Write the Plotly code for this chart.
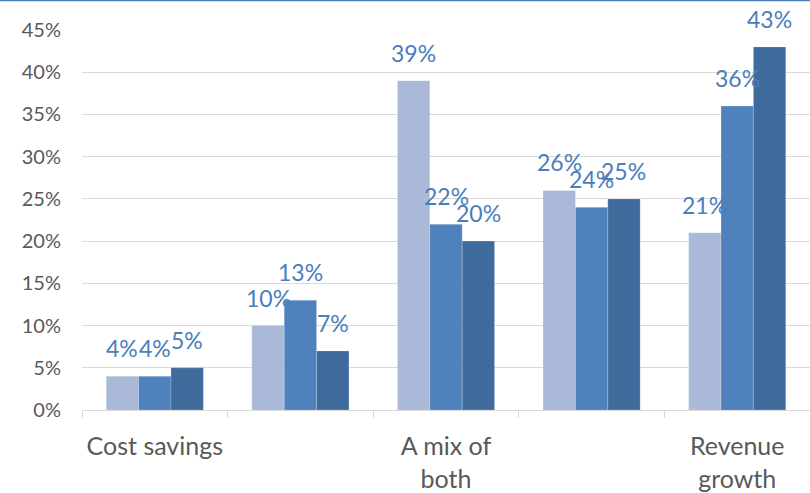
import plotly.graph_objects as go

# Survey results: share of respondents per answer, three series
categories = ["Cost savings", "", "A mix of<br>both", "", "Revenue<br>growth"]
series_a = [4, 10, 39, 26, 21]
series_b = [4, 13, 22, 24, 36]
series_c = [5, 7, 20, 25, 43]
series_names = ["Series 1", "Series 2", "Series 3"]
colors = ["#aab9d7", "#4f81bd", "#3e6a9c"]

y_ticks = list(range(0, 50, 5))

BARGAP = 0.333
bar_w = (1 - BARGAP) / 3
x_pos = list(range(len(categories)))

fig = go.Figure()
annotations = []
for k, (name, vals, col) in enumerate(zip(series_names, [series_a, series_b, series_c], colors)):
    fig.add_trace(go.Bar(
        x=x_pos, y=vals, name=name,
        marker=dict(color=col, line=dict(color="rgba(255,255,255,0.35)", width=0.6)),
        hoverinfo="skip",
    ))
    for i, v in enumerate(vals):
        annotations.append(dict(
            x=i + (k - 1) * bar_w, y=v, xref="x", yref="y",
            text=f"{v}%", showarrow=False, yanchor="bottom", yshift=12,
            font=dict(family="Lato", size=23, color="#4a7ebb"),
        ))

# thin blue rule along the top edge
top_rule = [dict(
    type="line", xref="paper", yref="paper",
    x0=-82 / 728, x1=1.0, y0=1 + 29.5 / 380, y1=1 + 29.5 / 380,
    line=dict(color="#4a7ebb", width=1.5),
)]

fig.update_layout(
    width=810, height=493,
    margin=dict(l=82, r=0, t=30, b=83),
    paper_bgcolor="white", plot_bgcolor="white",
    barmode="group", bargap=BARGAP, bargroupgap=0,
    showlegend=False,
    annotations=annotations,
    shapes=top_rule,
    font=dict(family="Lato", color="#595959"),
)

fig.update_xaxes(
    range=[-0.5, len(categories) - 0.5],
    tickmode="array", tickvals=x_pos, ticktext=categories,
    ticks="", showgrid=False,
    showline=True, linecolor="#d9d9d9", linewidth=1,
    tickfont=dict(family="Lato", size=25, color="#595959"),
    ticklabelstandoff=14,
    minor=dict(tickmode="array", tickvals=[i - 0.5 for i in range(len(categories) + 1)],
               ticks="outside", ticklen=7, tickcolor="#d9d9d9", tickwidth=1, showgrid=False),
    fixedrange=True,
)

fig.update_yaxes(
    range=[0, 45],
    tickmode="array", tickvals=y_ticks, ticktext=[f"{t}%" for t in y_ticks],
    showgrid=True, gridcolor="#d9d9d9", gridwidth=1,
    zeroline=False, showline=False, ticks="",
    tickfont=dict(family="Lato", size=20, color="#595959"),
    ticklabelstandoff=20,
    fixedrange=True,
)

fig.write_html("out.html")
